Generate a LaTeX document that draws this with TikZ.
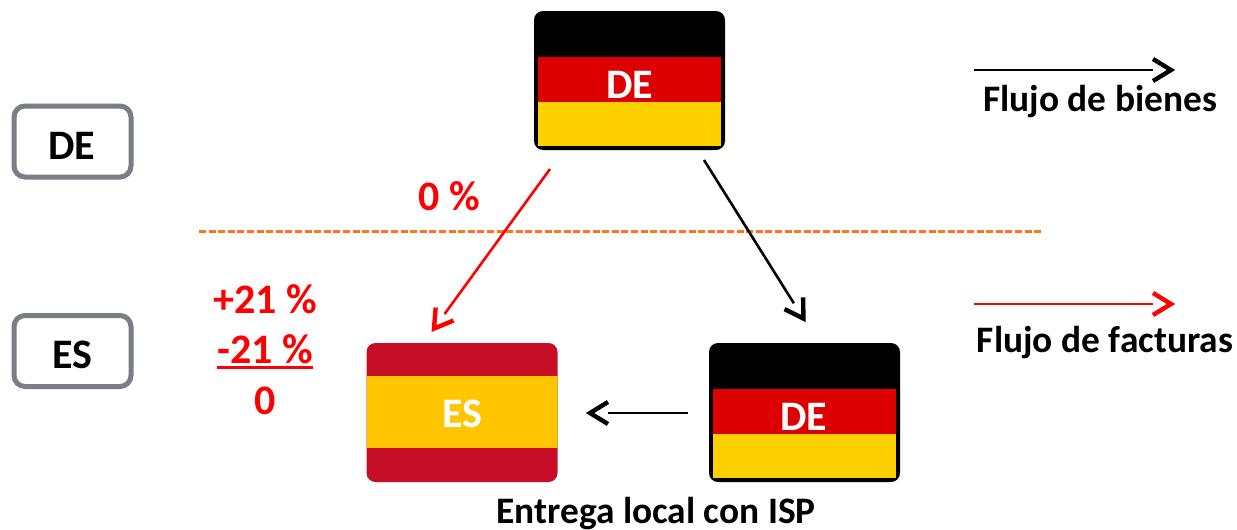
\documentclass[tikz,border=0pt]{standalone}
\usepackage{fontspec}
\setmainfont{Carlito}
\usetikzlibrary{calc}
\definecolor{degold}{HTML}{FFD000}
\definecolor{dered}{HTML}{DD0000}
\definecolor{esred}{HTML}{C60F26}
\definecolor{esgold}{HTML}{FFC600}
\definecolor{boxgray}{HTML}{7A7E86}
\definecolor{dashorange}{HTML}{FF7415}
\newcommand\thickul[1]{\setbox0\hbox{#1}\rlap{\rule[-5.5pt]{\wd0}{2.5pt}}\box0}
% shaft from #2 to the base of the head at #3, open head at #3
\newcommand\flowarrow[3]{%
  \coordinate (base) at ($(#3)!18pt!(#2)$);
  \draw[shaftline,#1] (#2) -- (base);
  \draw[headline,#1] ($(base)!11pt!90:(#3)$) -- (#3) -- ($(base)!11pt!-90:(#3)$);
}
\tikzset{
  x=1pt,y=-1pt,
  lbl/.style={font=\fontsize{37.4}{37.4}\selectfont\bfseries,anchor=base,inner sep=0pt},
  biglbl/.style={lbl,font=\fontsize{42}{42}\selectfont\bfseries},
  redlbl/.style={biglbl,text=red},
  whitelbl/.style={biglbl,text=white},
  countrybox/.style={draw=boxgray,line width=5pt,rounded corners=11pt,fill=white,minimum width=117pt,minimum height=71pt,inner sep=0pt},
  flagbase/.style={rounded corners=9pt,minimum width=191pt,minimum height=139pt,inner sep=0pt},
  deflag/.style={flagbase,fill=black,path picture={
    \fill[dered,sharp corners] ($(path picture bounding box.north west)+(4,46)$) rectangle ($(path picture bounding box.north east)+(-4,91)$);
    \fill[degold,sharp corners] ($(path picture bounding box.north west)+(4,91)$) rectangle ($(path picture bounding box.north east)+(-4,135)$);
  }},
  esflag/.style={flagbase,fill=esred,path picture={
    \fill[esgold,sharp corners] ($(path picture bounding box.north west)+(0,33)$) rectangle ($(path picture bounding box.north east)+(0,105)$);
  }},
  shaftline/.style={line width=2.6pt},
  headline/.style={line width=4.4pt,miter limit=10},
  divider/.style={dashorange,line width=3pt,dash pattern=on 7pt off 2.6pt},
}
\begin{document}
\begin{tikzpicture}
\useasboundingbox (0,0) rectangle (1237,530);
% flags
\node[deflag] (deTop) at (629.5,80.5) {};
\node[deflag] (deRight) at (804.5,412.5) {};
\node[esflag] (esLeft) at (462,412.5) {};
\node[whitelbl] (deTopT) at (630,98) {DE};
\node[whitelbl] (deRightT) at (804,430) {DE};
\node[whitelbl] (esLeftT) at (462,427) {ES};
% country boxes
\node[countrybox] (boxDE) at (72.5,141.5) {};
\node[countrybox] (boxES) at (72.5,351) {};
\node[biglbl] (boxDEt) at (72,159) {DE};
\node[biglbl] (boxESt) at (72,368) {ES};
% divider
\coordinate (divL) at (199,231);
\coordinate (divR) at (1041,231);
\draw[divider] (divL) -- (divR);
% connector end points
\coordinate (redS) at (550,169);
\coordinate (redE) at (434,328.6);
\coordinate (blkS) at (704,160);
\coordinate (blkE) at (803.4,318.5);
\coordinate (locS) at (688,413);
\coordinate (locE) at (590,413);
\coordinate (legAS) at (974,70);
\coordinate (legAE) at (1171,70);
\coordinate (legBS) at (974,304);
\coordinate (legBE) at (1171,304);
\flowarrow{red}{redS}{redE}
\flowarrow{black}{blkS}{blkE}
\flowarrow{black}{locS}{locE}
\flowarrow{black}{legAS}{legAE}
\flowarrow{red}{legBS}{legBE}
% labels
\node[redlbl] (zero) at (449.5,210) {0 \%};
\node[redlbl] (plus) at (265,313) {+21 \%};
\node[redlbl] (minus) at (265,363) {\thickul{-21 \%}};
\node[redlbl] (result) at (265,414) {0};
\node[lbl] (legA) at (1100,111) {Flujo de bienes};
\node[lbl] (legB) at (1105,352) {Flujo de facturas};
\node[lbl] (isp) at (656,523) {Entrega local con ISP};
\end{tikzpicture}
\end{document}
